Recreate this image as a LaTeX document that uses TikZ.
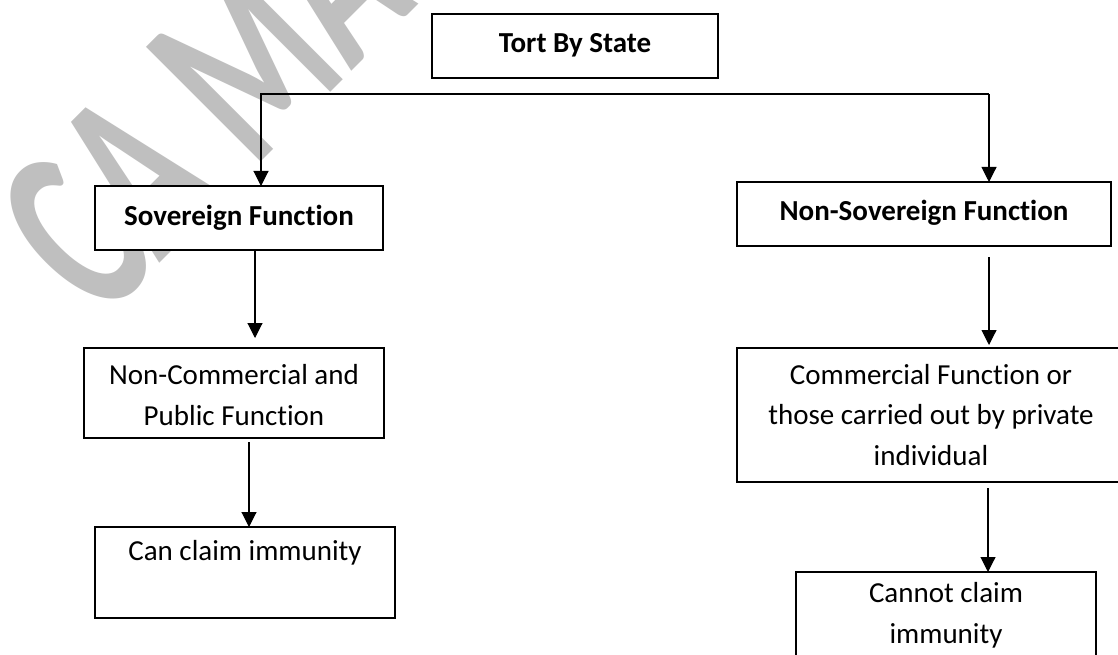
\documentclass[tikz,border=0pt]{standalone}
\usepackage{fontspec}
\usepackage{graphicx}
\setmainfont{Carlito}[Ligatures=NoCommon]
\usetikzlibrary{arrows.meta}

\begin{document}
\begin{tikzpicture}[x=1pt, y=-1pt,
  every node/.style={inner sep=0pt, outer sep=0pt},
  box/.style={draw=black, line width=1.1pt, fill=white, anchor=north west,
    align=center, font=\fontsize{29}{40.5}\selectfont},
  boldbox/.style={box, font=\fontsize{29}{40.5}\selectfont\bfseries},
  conn/.style={line width=1.1pt},
  arr/.style={conn, -{Triangle[width=15pt,length=15pt]}},
  wm/.style={text=black!25, font=\fontsize{250}{250}\selectfont\bfseries}
]
\useasboundingbox (0,0) rectangle (1118,655);
\clip (0,0) rectangle (1118,655);
\fill[white] (0,0) rectangle (1118,655);

% background watermark (condensed, diagonal)
\node[wm, rotate=45, anchor=base west] (wmark) at (101,322) {\scalebox{0.63}[1]{CA\kern59pt MA}};

% boxes (text height = top edge to last baseline)
\node[boldbox, minimum width=286pt, text height=39pt, text depth=25pt] (top) at (432,14) {Tort By State};
\node[boldbox, minimum width=288pt, text height=39pt, text depth=25pt] (sov) at (95,186) {Sovereign Function};
\node[boldbox, minimum width=374pt, text height=38pt, text depth=26pt] (nsov) at (737,182) {Non-Sovereign Function};
\node[box, minimum width=300pt, text height=77pt, text depth=13pt] (ncomm) at (84,348) {Non-Commercial and\\Public Function};
\node[box, minimum width=300pt, text height=33pt, text depth=58pt] (can) at (95,527) {Can claim immunity};
\node[box, minimum width=388pt, text height=117pt, text depth=17pt] (comm) at (737,348) {Commercial Function or\\those carried out by private\\individual};
\node[box, minimum width=300pt, text height=71pt, text depth=90pt] (cannot) at (796,572) {Cannot claim\\immunity};

% branch line under the title
\coordinate (splitL) at (261,94);
\coordinate (splitR) at (989,94);
\draw[conn] ([xshift=-1pt]splitL) -- (splitR);
\draw[arr] (splitL) -- (splitL |- sov.north);
\draw[arr] (splitR) -- (splitR |- nsov.north);

% left column
\coordinate (colA) at (255,0);
\coordinate (colB) at (249,0);
\draw[arr, shorten <=1pt, shorten >=10pt] (sov.south -| colA) -- (ncomm.north -| colA);
\draw[arr, shorten <=4pt] (ncomm.south -| colB) -- (can.north -| colB);

% right column
\coordinate (colC) at (989,0);
\coordinate (colD) at (988,0);
\draw[arr, shorten <=11pt, shorten >=3pt] (nsov.south -| colC) -- (comm.north -| colC);
\draw[arr, shorten <=6pt] (comm.south -| colD) -- (cannot.north -| colD);
\end{tikzpicture}
\end{document}
